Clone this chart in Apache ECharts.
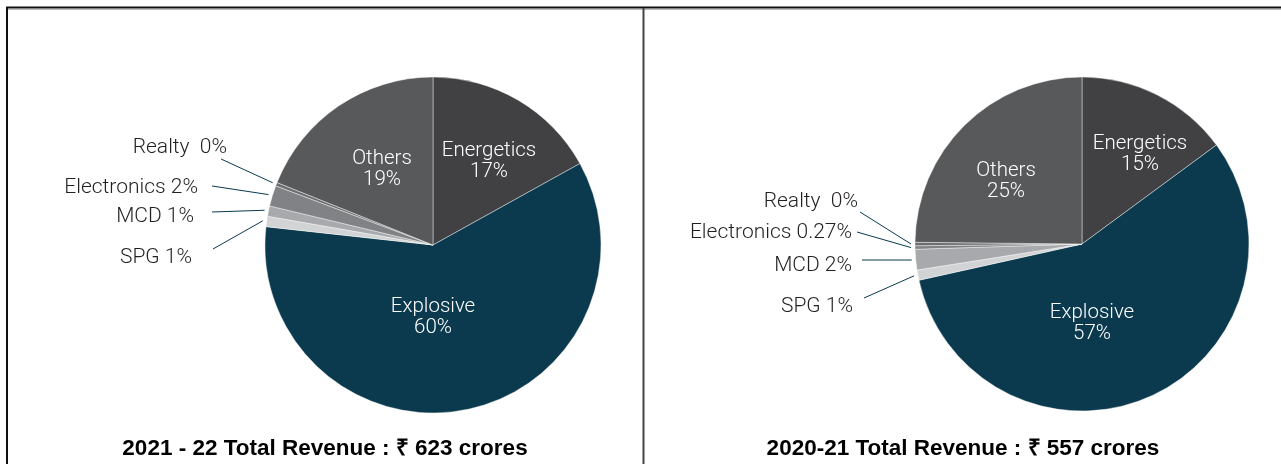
<!DOCTYPE html>
<html>
<head>
<meta charset="utf-8">
<script src="https://cdn.jsdelivr.net/npm/echarts@6/dist/echarts.min.js"></script>
<style>
  html, body { margin: 0; padding: 0; background: #fff; }
  #chart { width: 1281px; height: 464px; }
</style>
</head>
<body>
<div id="chart"></div>
<script>
// Revenue split by business segment, in percent of total revenue
const segments = ['Energetics', 'Explosive', 'SPG', 'MCD', 'Electronics', 'Realty', 'Others'];
const share2122 = [17, 60, 1, 1, 2, 0, 19];
const share2021 = [15, 57, 1, 2, 0.27, 0, 25];
const titles = ['2021 - 22 Total Revenue : \u20B9 623 crores', '2020-21 Total Revenue : \u20B9 557 crores'];

const segmentColors = ['#414042', '#0b3a4f', '#d1d3d4', '#a7a9ac', '#808285', '#6d6e71', '#58595b'];
const insideSegments = ['Energetics', 'Explosive', 'Others'];

// Label placement relative to each pie centre: [dx, dy]
const labelSpots = [
  {
    center: [433, 245], radius: 168,
    inside: { Energetics: [56, -84], Explosive: [0, 72], Others: [-51, -76] },
    lineEnd: { SPG: [-220, 4], MCD: [-221, -33], Electronics: [-221, -59], Realty: [-212, -86] },
    text: { SPG: [-241, 13], MCD: [-239, -28], Electronics: [-235, -57], Realty: [-206, -97] }
  },
  {
    center: [1082, 244], radius: 167,
    inside: { Energetics: [58, -90], Explosive: [10, 79], Others: [-76, -63] },
    lineEnd: { SPG: [-218, 54], MCD: [-220, 16], Electronics: [-225, -12], Realty: [-222, -32] },
    text: { SPG: [-229, 63], MCD: [-230, 22], Electronics: [-230, -11], Realty: [-224, -42] }
  }
];

const chart = echarts.init(document.getElementById('chart'), null, { renderer: 'canvas' });

function buildData(values) {
  return segments.map(function (name, i) {
    const inside = insideSegments.indexOf(name) >= 0;
    return {
      name: name,
      value: values[i],
      itemStyle: { color: segmentColors[i] },
      label: inside ? {
        position: 'inside',
        color: '#ffffff',
        fontSize: 20.5,
        lineHeight: 21,
        formatter: '{b}\n{c}%'
      } : {
        position: 'outside',
        color: '#231f20',
        fontSize: 21,
        formatter: function (p) { return p.name + (p.name === 'Realty' ? '  ' : ' ') + p.value + '%'; }
      },
      labelLine: { show: !inside }
    };
  });
}

function makeLayout(spot) {
  return function (p) {
    const name = segments[p.dataIndex];
    const cx = spot.center[0], cy = spot.center[1];
    if (spot.inside[name]) {
      const o = spot.inside[name];
      return { x: cx + o[0], y: cy + o[1], align: 'center', verticalAlign: 'middle' };
    }
    const pts = p.labelLinePoints;
    const e = spot.lineEnd[name];
    const t = spot.text[name];
    let start = pts ? pts[0] : [cx - spot.radius, cy];
    const dx = start[0] - cx, dy = start[1] - cy;
    const len = Math.sqrt(dx * dx + dy * dy) || 1;
    start = [cx + dx / len * (spot.radius + 4), cy + dy / len * (spot.radius + 4)];
    const end = [cx + e[0], cy + e[1]];
    return {
      x: cx + t[0], y: cy + t[1], align: 'right', verticalAlign: 'middle',
      labelLinePoints: [start, end, end]
    };
  };
}

function pieSeries(values, spot) {
  return {
    type: 'pie',
    center: spot.center,
    radius: spot.radius,
    startAngle: 90,
    clockwise: true,
    minAngle: 1.2,
    avoidLabelOverlap: false,
    animation: false,
    itemStyle: { borderColor: 'rgba(255,255,255,0.7)', borderWidth: 0.6 },
    label: { fontFamily: 'Roboto', fontWeight: 300 },
    labelLine: { lineStyle: { color: '#0b3a4f', width: 1 }, length: 20, length2: 0 },
    emphasis: { disabled: true },
    labelLayout: makeLayout(spot),
    data: buildData(values)
  };
}

const titleStyle = { fontFamily: 'Liberation Sans', fontWeight: 'bold', fontSize: 22.5, color: '#000' };

chart.setOption({
  backgroundColor: '#ffffff',
  animation: false,
  title: [
    { text: titles[0], left: 325, top: 437, textAlign: 'center', padding: 0, textStyle: titleStyle },
    { text: titles[1], left: 963, top: 437, textAlign: 'center', padding: 0, textStyle: titleStyle }
  ],
  graphic: [
    { type: 'line', shape: { x1: 6, y1: 7.5, x2: 1281, y2: 7.5 }, style: { stroke: '#111', lineWidth: 2 }, silent: true },
    { type: 'line', shape: { x1: 6, y1: 9.5, x2: 1281, y2: 9.5 }, style: { stroke: '#bbb', lineWidth: 1 }, silent: true },
    { type: 'line', shape: { x1: 7, y1: 7, x2: 7, y2: 464 }, style: { stroke: '#111', lineWidth: 2 }, silent: true },
    { type: 'line', shape: { x1: 643.5, y1: 8, x2: 643.5, y2: 464 }, style: { stroke: '#444', lineWidth: 2 }, silent: true }
  ],
  series: [
    pieSeries(share2122, labelSpots[0]),
    pieSeries(share2021, labelSpots[1])
  ]
});
</script>
</body>
</html>
